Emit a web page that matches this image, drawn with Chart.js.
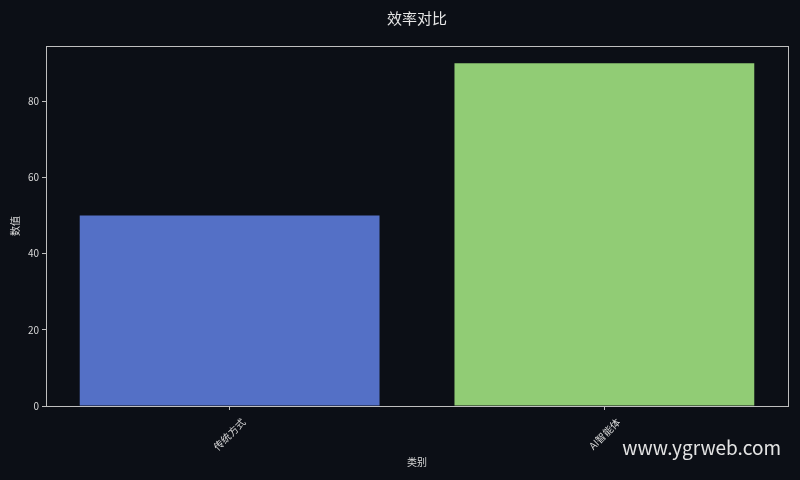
<!DOCTYPE html>
<html>
<head>
<meta charset="utf-8">
<script src="https://cdn.jsdelivr.net/npm/chart.js@4.4.0/dist/chart.umd.js"></script>
<style>
  html, body { margin: 0; padding: 0; background: #0c0f16; }
  #wrap { width: 800px; height: 480px; position: relative; }
</style>
</head>
<body>
<div id="wrap"><canvas id="chart"></canvas></div>
<script>
// chart data
const categories = ['传统方式', 'AI智能体'];
const values = [50, 90];
const barColors = ['#5470c6', '#91cc75'];
const yTicks = [0, 20, 40, 60, 80];

const chartTitle = '效率对比';
const xTitle = '类别';
const yTitle = '数值';
const watermark = 'www.ygrweb.com';

const FONT = '"Noto Sans CJK SC", "Noto Sans", sans-serif';
const textColor = '#d8d8d8';
const axisColor = '#bfbfbf';

// background, frame around the plot, title and watermark
const decoPlugin = {
    id: 'deco',
    beforeDraw(chart) {
        const ctx = chart.ctx;
        ctx.save();
        ctx.fillStyle = '#0c0f16';
        ctx.fillRect(0, 0, chart.width, chart.height);
        ctx.restore();
    },
    afterDatasetsDraw(chart) {
        const a = chart.chartArea;
        const ctx = chart.ctx;
        ctx.save();
        ctx.strokeStyle = axisColor;
        ctx.lineWidth = 1;
        ctx.strokeRect(a.left + 0.5, a.top + 0.5, a.right - a.left, a.bottom - a.top);
        ctx.restore();
    },
    afterDraw(chart) {
        const a = chart.chartArea;
        const ctx = chart.ctx;
        ctx.save();
        ctx.font = '15px ' + FONT;
        ctx.fillStyle = '#e6e6e6';
        ctx.textAlign = 'center';
        ctx.textBaseline = 'middle';
        ctx.fillText(chartTitle, (a.left + a.right) / 2, 18);

        ctx.font = '19px ' + FONT;
        ctx.fillStyle = '#e4e4e4';
        ctx.textAlign = 'right';
        ctx.fillText(watermark, 781, 448);
        ctx.restore();
    }
};

new Chart(document.getElementById('chart'), {
    type: 'bar',
    data: {
        datasets: [{
            data: values.map((v, i) => ({ x: i, y: v })),
            backgroundColor: barColors,
            borderWidth: 0,
            barPercentage: 0.8,
            categoryPercentage: 1.0
        }]
    },
    plugins: [decoPlugin],
    options: {
        responsive: true,
        maintainAspectRatio: false,
        animation: false,
        layout: { padding: { left: 0, right: 12, top: 46, bottom: 0 } },
        plugins: {
            legend: { display: false },
            tooltip: { enabled: false },
            title: { display: false }
        },
        scales: {
            x: {
                type: 'linear',
                offset: false,
                min: -0.49,
                max: categories.length - 1 + 0.49,
                border: { display: true, color: axisColor, width: 1 },
                grid: { display: true, offset: false, drawOnChartArea: false, color: axisColor, tickLength: 4 },
                afterBuildTicks(scale) {
                    scale.ticks = categories.map((c, i) => ({ value: i }));
                },
                ticks: {
                    color: textColor,
                    font: { family: FONT, size: 10 },
                    maxRotation: 45,
                    minRotation: 45,
                    padding: 6,
                    labelOffset: 14,
                    callback: (v) => categories[v]
                },
                title: {
                    display: true,
                    text: xTitle,
                    color: textColor,
                    font: { family: FONT, size: 10 },
                    padding: { top: 0, bottom: 12 }
                },
                afterFit(scale) { scale.height = 74; }
            },
            y: {
                min: 0,
                max: 94.5,
                border: { display: true, color: axisColor, width: 1 },
                grid: { display: true, drawOnChartArea: false, color: axisColor, tickLength: 4 },
                afterBuildTicks(scale) {
                    scale.ticks = yTicks.map(v => ({ value: v }));
                },
                ticks: {
                    color: textColor,
                    font: { family: FONT, size: 10 },
                    padding: 3
                },
                title: {
                    display: true,
                    text: yTitle,
                    color: textColor,
                    font: { family: FONT, size: 10 },
                    padding: { top: 9, bottom: 0 }
                },
                afterFit(scale) { scale.width = 46; }
            }
        }
    }
});
</script>
</body>
</html>
